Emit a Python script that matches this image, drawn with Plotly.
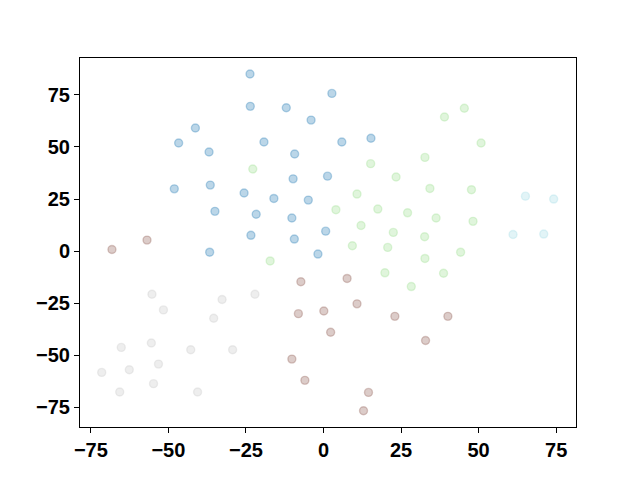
import plotly.graph_objects as go

blue_x = [-23.7, 2.7, -23.6, -12.0, -4.0, -41.3, -46.7, -19.2, 5.9, 15.3, -36.9, -9.3, 1.3, -9.8, -36.5, -48.1, -25.6, -16.0, -4.9, -35.0, -21.7, -10.2, -23.4, -9.4, 0.7, -1.8, -36.7]
blue_y = [85.0, 75.7, 69.5, 68.8, 62.9, 59.1, 51.9, 52.4, 52.4, 54.2, 47.6, 46.6, 36.0, 34.7, 31.7, 29.9, 27.9, 25.3, 24.5, 19.1, 17.7, 15.9, 7.6, 5.8, 9.6, -1.4, -0.5]

green_x = [45.4, 39.0, 50.8, 32.7, 15.2, 23.4, 34.3, 47.7, 10.8, 4.0, 17.5, 27.1, 36.3, 48.2, 12.1, 22.5, 32.6, 9.3, 20.7, -22.8, 32.7, 44.2, 19.8, 38.7, 28.3, -17.2]
green_y = [68.6, 64.4, 51.9, 45.0, 42.0, 35.6, 30.1, 29.5, 27.4, 19.9, 20.2, 18.4, 15.9, 14.3, 12.3, 9.0, 6.9, 2.6, 1.8, 39.4, -3.5, -0.5, -10.4, -10.6, -17.0, -4.7]

cyan_x = [65.1, 74.2, 61.1, 71.0]
cyan_y = [26.4, 25.0, 8.0, 8.2]

brown_x = [-68.2, -56.9, -7.3, -8.1, -10.2, -6.0, 7.6, 10.8, 0.1, 23.0, 40.1, 2.3, 32.9, 14.5, 12.9]
brown_y = [0.8, 5.3, -14.7, -30.0, -51.8, -62.0, -13.1, -25.3, -28.7, -31.3, -31.3, -38.9, -42.9, -67.8, -76.6]

gray_x = [-55.3, -22.1, -32.7, -51.6, -35.4, -65.2, -55.5, -42.8, -29.3, -53.2, -62.6, -71.5, -54.8, -65.7, -40.6]
gray_y = [-20.7, -20.7, -23.2, -28.2, -32.2, -46.2, -44.1, -47.3, -47.3, -54.2, -56.9, -58.2, -63.6, -67.6, -67.6]

x_ticks = [-75, -50, -25, 0, 25, 50, 75]
y_ticks = [-75, -50, -25, 0, 25, 50, 75]

ALPHA = 0.3
groups = [
    (blue_x, blue_y, (31, 119, 180)),
    (green_x, green_y, (152, 223, 138)),
    (cyan_x, cyan_y, (158, 218, 229)),
    (brown_x, brown_y, (140, 86, 75)),
    (gray_x, gray_y, (199, 199, 199)),
]

fig = go.Figure()
for xs, ys, (r, g, b) in groups:
    c = f"rgba({r},{g},{b},{ALPHA})"
    fig.add_trace(go.Scatter(
        x=xs, y=ys, mode="markers",
        marker=dict(size=8, color=c, line=dict(color=c, width=1.4)),
        showlegend=False, hoverinfo="skip",
    ))

axis_common = dict(
    showgrid=False, zeroline=False, showline=True, linecolor="black", linewidth=1,
    mirror=True, ticks="outside", ticklen=5, tickwidth=1, tickcolor="black",
    tickfont=dict(family="Liberation Sans", size=20, color="black", weight="bold"),
)
fig.update_xaxes(range=[-78.5, 81.4], tickvals=x_ticks, **axis_common)
fig.update_yaxes(range=[-84.4, 92.7], tickvals=y_ticks, **axis_common)
fig.update_layout(
    width=640, height=480,
    margin=dict(l=80, r=64, t=58, b=53),
    paper_bgcolor="white", plot_bgcolor="white",
)
fig.write_html("out.html", config={"displayModeBar": False},
               post_script="document.body.style.margin='0';")
